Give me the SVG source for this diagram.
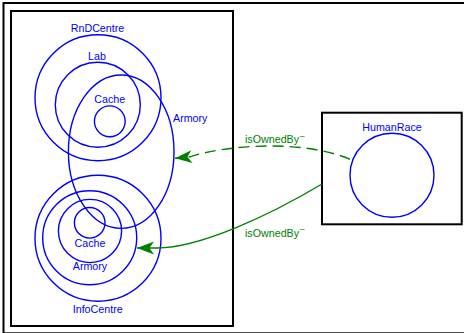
<svg xmlns="http://www.w3.org/2000/svg" width="464" height="333" viewBox="0 0 464 333">
<style>
.frame{fill:none;stroke:#000;stroke-width:2}
.set{fill:none;stroke:#0000ff;stroke-width:1.4}
.lbl{font-family:"Liberation Sans",Arial,sans-serif;font-size:10.7px;fill:#0000ff}
.elbl{font-family:"Liberation Sans",Arial,sans-serif;font-size:10.7px;fill:#008000}
.sup{font-family:"DejaVu Sans",sans-serif;font-size:12px}
.edge{fill:none;stroke:#008000;stroke-width:1.4}
</style>
<defs>
<marker id="arr" markerUnits="userSpaceOnUse" viewBox="-18 -8 19 16" markerWidth="19" markerHeight="16" refX="0" refY="0" orient="auto">
<path d="M0,0 L-17,-6.5 L-12.5,0 L-17,6.5 Z" fill="#008000"/>
</marker>
</defs>
<rect width="464" height="333" fill="#fff"/>
<rect class="frame" x="3.5" y="3" width="470" height="330.3"/>
<g id="InfoCentreFrame">
<rect class="frame" x="11" y="11" width="222" height="315"/>
</g>
<g id="RnDCentre">
<circle class="set" cx="98" cy="97.7" r="63"/>
<text class="lbl" x="97.5" y="31.7" text-anchor="middle">RnDCentre</text>
</g>
<g id="Lab">
<circle class="set" cx="97.8" cy="104.7" r="42.5"/>
<text class="lbl" x="97" y="60.3" text-anchor="middle">Lab</text>
</g>
<g id="Cache1">
<circle class="set" cx="109.8" cy="121.3" r="15.4"/>
<text class="lbl" x="109.8" y="103.3" text-anchor="middle">Cache</text>
</g>
<g id="Armory1">
<ellipse class="set" cx="121.2" cy="151.7" rx="52.8" ry="76.7"/>
<text class="lbl" x="173" y="121.7">Armory</text>
</g>
<g id="InfoCentre">
<circle class="set" cx="98" cy="238.3" r="63"/>
<text class="lbl" x="97.7" y="312.5" text-anchor="middle">InfoCentre</text>
</g>
<g id="Armory2">
<circle class="set" cx="89.7" cy="237.8" r="47"/>
<text class="lbl" x="90" y="270" text-anchor="middle">Armory</text>
</g>
<g id="Inner">
<circle class="set" cx="90" cy="231" r="31.6"/>
</g>
<g id="Cache2">
<circle class="set" cx="89.7" cy="222.8" r="15.3"/>
<text class="lbl" x="90" y="246.7" text-anchor="middle">Cache</text>
</g>
<g id="HumanRaceBox">
<rect class="frame" x="322" y="112.7" width="139.7" height="111.6"/>
</g>
<g id="HumanRace">
<circle class="set" cx="392" cy="175.2" r="42"/>
<text class="lbl" x="392" y="130.7" text-anchor="middle">HumanRace</text>
</g>
<g id="connectors">
<path class="edge" d="M350,159.3 C305,140 230,144 190,156.8 L175,158.3" stroke-dasharray="11 6" marker-end="url(#arr)"/>
<path class="edge" d="M322,184 C270,215 200,248 157,248 L137,248" marker-end="url(#arr)"/>
<text class="elbl" x="245" y="143.3">isOwnedBy<tspan class="sup" dy="-0.5">⁻</tspan></text>
<text class="elbl" x="245" y="236.7">isOwnedBy<tspan class="sup" dy="-0.5">⁻</tspan></text>
</g>
</svg>
